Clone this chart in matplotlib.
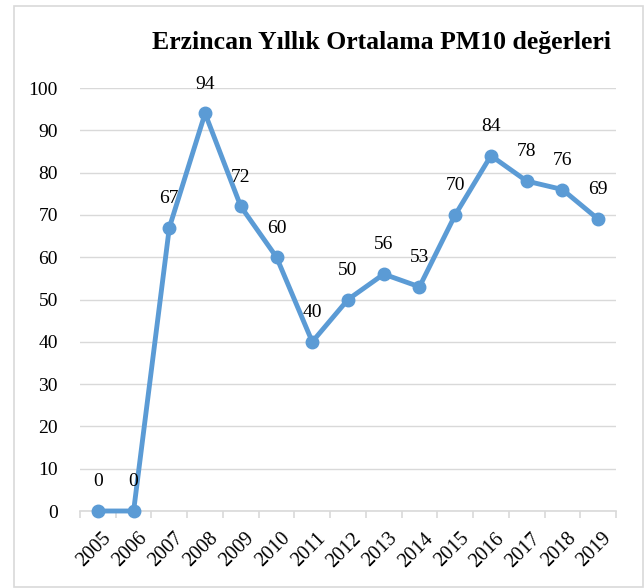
import matplotlib
matplotlib.use("Agg")
import matplotlib.pyplot as plt
import matplotlib.transforms as mtransforms
from matplotlib.patches import Rectangle

years = ["2005", "2006", "2007", "2008", "2009", "2010", "2011", "2012",
         "2013", "2014", "2015", "2016", "2017", "2018", "2019"]
values = [0, 0, 67, 94, 72, 60, 40, 50, 56, 53, 70, 84, 78, 76, 69]
title = "Erzincan Yıllık Ortalama PM10 değerleri"

plt.rcParams['font.family'] = ['Liberation Serif', 'DejaVu Serif']

W, H = 644, 588
fig = plt.figure(figsize=(W / 100, H / 100), dpi=100)
ax = fig.add_axes([80 / W, 1 - 511 / H, (616 - 80) / W, (511 - 88) / H])

x = list(range(len(years)))
blue = "#5B9BD5"
ax.plot(x, values, color=blue, lw=3.5, marker='o', markersize=9, zorder=3,
        solid_capstyle='round', clip_on=False)
for xi, v in zip(x, values):
    ax.annotate(str(v), (xi, v), xytext=(0, 21), textcoords='offset points',
                ha='center', va='center', fontsize=14, color='#000000')

ax.set_xlim(-0.5, len(years) - 0.5)
ax.set_ylim(0, 100)
ax.set_yticks(range(0, 101, 10))
ax.yaxis.grid(True, color='#D9D9D9', lw=1)
ax.set_axisbelow(True)
for s in ['top', 'right', 'left']:
    ax.spines[s].set_visible(False)
ax.spines['bottom'].set_color('#D9D9D9')
ax.spines['bottom'].set_linewidth(1.2)
ax.tick_params(axis='y', length=0, labelsize=14, pad=16)
ax.set_xticks(x)
ax.set_xticklabels(years, rotation=45, ha='right', rotation_mode='anchor', fontsize=14.5)
ax.tick_params(axis='x', which='major', length=0, pad=13)
off = mtransforms.ScaledTranslation(4 / 100, 0, fig.dpi_scale_trans)
for lbl in ax.get_xticklabels():
    lbl.set_transform(lbl.get_transform() + off)
ax.set_xticks([i - 0.5 for i in range(len(years) + 1)], minor=True)
ax.tick_params(axis='x', which='minor', length=5, color='#D9D9D9', width=1.2)

fig.text(381 / W, 1 - 42 / H, title, ha='center', va='center', fontsize=18.5,
         fontweight='bold')

fig.patches.append(Rectangle((14 / W, 1 - 587 / H), (643 - 14) / W, (587 - 6) / H,
                             transform=fig.transFigure, fill=False,
                             edgecolor='#D9D9D9', lw=1.2))

fig.savefig("out.png", dpi=100)
